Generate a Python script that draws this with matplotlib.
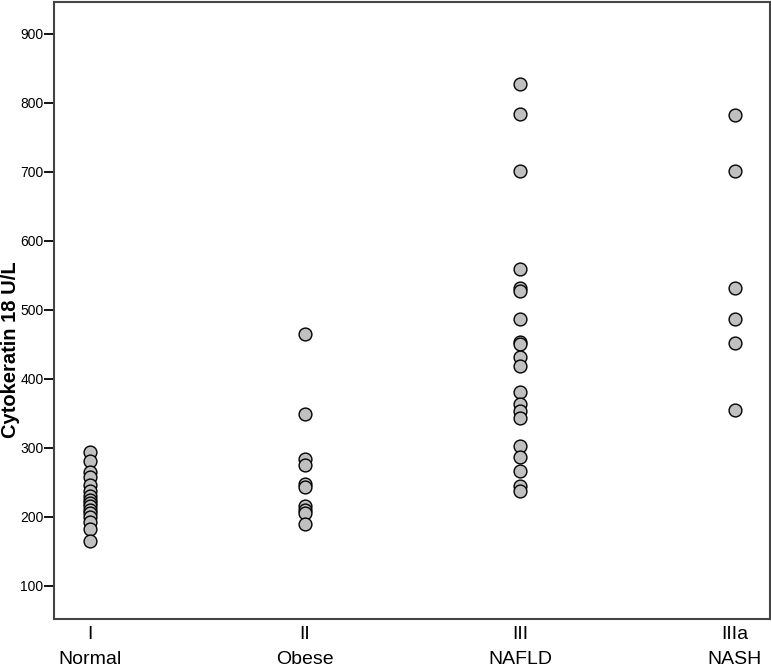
import matplotlib.pyplot as plt

# ── data ─────────────────────────────────────────────────────────────────────
groups = ['I\nNormal', 'II\nObese', 'III\nNAFLD', 'IIIa\nNASH']

normal = [294, 281, 265, 257, 246, 238, 230, 225, 220, 215, 210, 205, 200, 193, 182, 165]
obese = [465, 349, 284, 275, 247, 243, 215, 210, 205, 190]
nafld = [827, 784, 701, 559, 531, 527, 487, 454, 451, 431, 418, 381, 363, 354, 343,
         303, 287, 266, 245, 237]
nash = [782, 701, 531, 487, 452, 355]

yticks = [100, 200, 300, 400, 500, 600, 700, 800, 900]

plt.rcParams['font.family'] = ['Liberation Sans', 'DejaVu Sans']

fig = plt.figure(figsize=(7.71, 6.72), dpi=100)
ax = fig.add_axes([0.070, 0.079, 0.9287, 0.918])

for i, vals in enumerate([normal, obese, nafld, nash]):
    ax.scatter([i] * len(vals), vals, s=85, color='#c0c0c0', edgecolor='black',
               linewidth=1.0, zorder=3)

ax.set_xlim(-0.167, 3.163)
ax.set_ylim(52, 946)
ax.set_xticks(range(len(groups)))
ax.set_xticklabels(groups, fontsize=14, linespacing=1.6)
ax.set_yticks(yticks)
ax.set_yticklabels([str(v) for v in yticks], fontsize=10)
ax.tick_params(axis='x', length=0, pad=5)
ax.tick_params(axis='y', length=7, width=1.3, direction='out', color='black', pad=0.5)

for side in ax.spines.values():
    side.set_color('#444444')
    side.set_linewidth(1.5)

# label pushed to the left edge of the figure, as in the reference
ax.set_ylabel('Cytokeratin 18 U/L', fontsize=14.5, fontweight='bold')
ax.yaxis.set_label_coords(11 / 771, 0.479, transform=fig.transFigure)
ax.yaxis.label.set_va('center')

fig.savefig('out.png', dpi=100)
